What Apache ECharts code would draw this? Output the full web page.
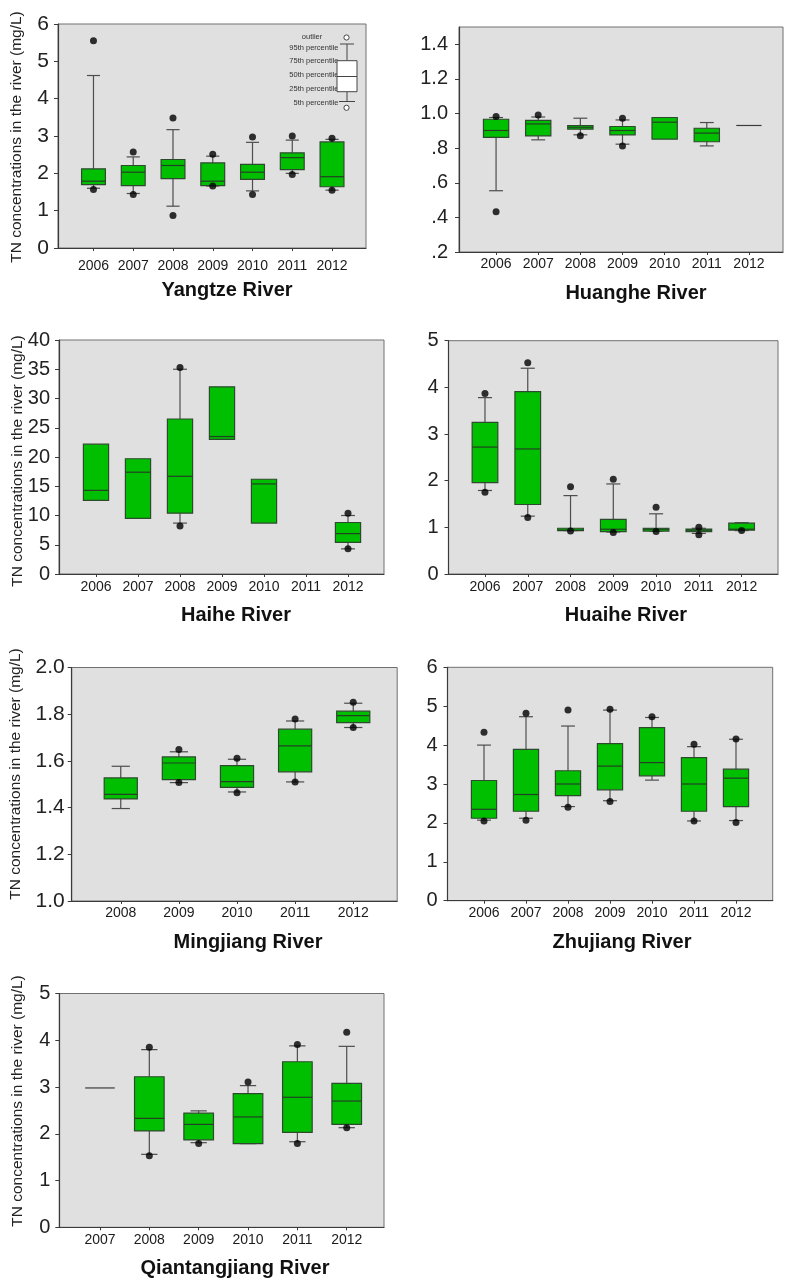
<!DOCTYPE html>
<html><head><meta charset="utf-8">
<script src="https://cdn.jsdelivr.net/npm/echarts@6/dist/echarts.min.js"></script>
<style>html,body{margin:0;padding:0;background:#fff}#c{width:787px;height:1281px}</style>
</head><body><div id="c"></div>
<script>
// ---------------- DATA ----------------
// Yangtze River
const yangtzeYears = ['2006','2007','2008','2009','2010','2011','2012'];
const yangtzeP5   = [1.60, 1.46, 1.12, 1.66, 1.53, 2.00, 1.55];
const yangtzeQ1   = [1.70, 1.67, 1.86, 1.67, 1.84, 2.10, 1.64];
const yangtzeMed  = [1.79, 2.03, 2.21, 1.79, 2.03, 2.42, 1.91];
const yangtzeQ3   = [2.12, 2.21, 2.37, 2.28, 2.24, 2.55, 2.84];
const yangtzeP95  = [4.62, 2.44, 3.17, 2.46, 2.83, 2.89, 2.91];
const yangtzeOutHigh = [5.55, 2.57, 3.48, 2.51, 2.97, 3.00, 2.94];
const yangtzeOutLow  = [1.57, 1.43, 0.87, 1.66, 1.43, 1.97, 1.55];
const yangtzeTicks = [0, 1, 2, 3, 4, 5, 6];
const yangtzeTickLabels = ['0','1','2','3','4','5','6'];

// Huanghe River
const huangheYears = ['2006','2007','2008','2009','2010','2011','2012'];
const huangheP5   = [0.554, 0.848, 0.877, 0.823, null, 0.813, null];
const huangheQ1   = [0.862, 0.871, 0.910, 0.877, 0.852, 0.837, 0.931];
const huangheMed  = [0.902, 0.940, 0.921, 0.902, 0.950, 0.887, 0.931];
const huangheQ3   = [0.967, 0.960, 0.931, 0.925, 0.977, 0.915, 0.931];
const huangheP95  = [0.977, 0.980, 0.973, 0.963, null, 0.948, null];
const huangheOutHigh = [0.983, 0.992, null, 0.973, null, null, null];
const huangheOutLow  = [0.433, null, 0.871, 0.813, null, null, null];
const huangheTicks = [0.2, 0.4, 0.6, 0.8, 1.0, 1.2, 1.4];
const huangheTickLabels = ['.2','.4','.6','.8','1.0','1.2','1.4'];

// Haihe River
const haiheYears = ['2006','2007','2008','2009','2010','2011','2012'];
const haiheP5   = [null, null, 8.7, null, null, null, 4.3];
const haiheQ1   = [12.6, 9.5, 10.4, 23.0, 8.7, null, 5.4];
const haiheMed  = [14.3, 17.4, 16.7, 23.5, 15.4, null, 6.9];
const haiheQ3   = [22.2, 19.7, 26.5, 32.0, 16.2, null, 8.8];
const haiheP95  = [null, null, 35.0, null, null, null, 10.0];
const haiheOutHigh = [null, null, 35.3, null, null, null, 10.4];
const haiheOutLow  = [null, null, 8.2, null, null, null, 4.3];
const haiheTicks = [0, 5, 10, 15, 20, 25, 30, 35, 40];
const haiheTickLabels = ['0','5','10','15','20','25','30','35','40'];

// Huaihe River
const huaiheYears = ['2006','2007','2008','2009','2010','2011','2012'];
const huaiheP5   = [1.79, 1.24, 0.93, 0.90, 0.92, 0.87, 0.93];
const huaiheQ1   = [1.96, 1.49, 0.93, 0.91, 0.92, 0.91, 0.94];
const huaiheMed  = [2.72, 2.68, 0.94, 0.96, 0.96, 0.94, 0.96];
const huaiheQ3   = [3.25, 3.91, 0.98, 1.17, 0.98, 0.96, 1.09];
const huaiheP95  = [3.78, 4.41, 1.68, 1.93, 1.29, 0.98, 1.10];
const huaiheOutHigh = [3.87, 4.53, 1.87, 2.03, 1.43, 1.00, null];
const huaiheOutLow  = [1.75, 1.21, 0.92, 0.89, 0.91, 0.84, 0.93];
const huaiheTicks = [0, 1, 2, 3, 4, 5];
const huaiheTickLabels = ['0','1','2','3','4','5'];

// Mingjiang River
const mingjiangYears = ['2008','2009','2010','2011','2012'];
const mingjiangP5   = [1.396, 1.507, 1.467, 1.510, 1.743];
const mingjiangQ1   = [1.437, 1.520, 1.487, 1.553, 1.764];
const mingjiangMed  = [1.457, 1.591, 1.511, 1.664, 1.794];
const mingjiangQ3   = [1.527, 1.617, 1.580, 1.736, 1.813];
const mingjiangP95  = [1.577, 1.639, 1.607, 1.771, 1.847];
const mingjiangOutHigh = [null, 1.649, 1.611, 1.779, 1.851];
const mingjiangOutLow  = [null, 1.507, 1.464, 1.510, 1.743];
const mingjiangTicks = [1.0, 1.2, 1.4, 1.6, 1.8, 2.0];
const mingjiangTickLabels = ['1.0','1.2','1.4','1.6','1.8','2.0'];

// Zhujiang River
const zhujiangYears = ['2006','2007','2008','2009','2010','2011','2012'];
const zhujiangP5   = [2.07, 2.12, 2.42, 2.57, 3.10, 2.05, 2.06];
const zhujiangQ1   = [2.12, 2.30, 2.70, 2.85, 3.21, 2.30, 2.42];
const zhujiangMed  = [2.35, 2.73, 3.00, 3.46, 3.55, 3.00, 3.15];
const zhujiangQ3   = [3.09, 3.89, 3.34, 4.04, 4.45, 3.68, 3.38];
const zhujiangP95  = [4.00, 4.73, 4.49, 4.90, 4.71, 3.96, 4.15];
const zhujiangOutHigh = [4.33, 4.82, 4.90, 4.92, 4.73, 4.02, 4.16];
const zhujiangOutLow  = [2.05, 2.07, 2.40, 2.55, null, 2.05, 2.01];
const zhujiangTicks = [0, 1, 2, 3, 4, 5, 6];
const zhujiangTickLabels = ['0','1','2','3','4','5','6'];

// Qiantangjiang River
const qiantangYears = ['2007','2008','2009','2010','2011','2012'];
const qiantangP5   = [null, 1.56, 1.81, 1.79, 1.83, 2.13];
const qiantangQ1   = [2.98, 2.06, 1.87, 1.79, 2.03, 2.20];
const qiantangMed  = [2.98, 2.33, 2.20, 2.36, 2.78, 2.70];
const qiantangQ3   = [2.98, 3.22, 2.44, 2.86, 3.54, 3.08];
const qiantangP95  = [null, 3.80, 2.49, 3.03, 3.88, 3.87];
const qiantangOutHigh = [null, 3.85, null, 3.11, 3.91, 4.17];
const qiantangOutLow  = [null, 1.53, 1.79, null, 1.79, 2.13];
const qiantangTicks = [0, 1, 2, 3, 4, 5];
const qiantangTickLabels = ['0','1','2','3','4','5'];

const yName = 'TN concentrations in the river (mg/L)';
const legendLabels = ['outlier','95th percentile','75th percentile','50th percentile','25th percentile','5th percentile'];

// ---------------- LAYOUT / STYLE ----------------
const FONT = '"Liberation Sans", Arial, Helvetica, sans-serif';
const GREEN = '#00bf00';
const panels = [
  {title:'Yangtze River', years:yangtzeYears, p5:yangtzeP5, q1:yangtzeQ1, med:yangtzeMed, q3:yangtzeQ3, p95:yangtzeP95, hi:yangtzeOutHigh, lo:yangtzeOutLow,
   ticks:yangtzeTicks, labels:yangtzeTickLabels, min:0, max:6, interval:1,
   frame:[58,24,308,224], inner:[73.6,278.3], frac:0.6, yFont:21, yMargin:9, xMargin:11, titlePos:[227,290], namePos:[17,137]},
  {title:'Huanghe River', years:huangheYears, p5:huangheP5, q1:huangheQ1, med:huangheMed, q3:huangheQ3, p95:huangheP95, hi:huangheOutHigh, lo:huangheOutLow,
   ticks:huangheTicks, labels:huangheTickLabels, min:0.2, max:1.5, interval:0.2,
   frame:[459,27,324,225], inner:[475,295], frac:0.6, yFont:20, yMargin:11, xMargin:5, titlePos:[636,293], namePos:null},
  {title:'Haihe River', years:haiheYears, p5:haiheP5, q1:haiheQ1, med:haiheMed, q3:haiheQ3, p95:haiheP95, hi:haiheOutHigh, lo:haiheOutLow,
   ticks:haiheTicks, labels:haiheTickLabels, min:0, max:40, interval:5,
   frame:[59,340,325,234], inner:[75,294], frac:0.6, yFont:20, yMargin:9, xMargin:6, titlePos:[236,615], namePos:[18,461]},
  {title:'Huaihe River', years:huaiheYears, p5:huaiheP5, q1:huaiheQ1, med:huaiheMed, q3:huaiheQ3, p95:huaiheP95, hi:huaiheOutHigh, lo:huaiheOutLow,
   ticks:huaiheTicks, labels:huaiheTickLabels, min:0, max:5, interval:1,
   frame:[448.5,340.7,329.5,233.3], inner:[463.6,299.4], frac:0.6, yFont:20, yMargin:10, xMargin:6, titlePos:[626,615], namePos:null},
  {title:'Mingjiang River', years:mingjiangYears, p5:mingjiangP5, q1:mingjiangQ1, med:mingjiangMed, q3:mingjiangQ3, p95:mingjiangP95, hi:mingjiangOutHigh, lo:mingjiangOutLow,
   ticks:mingjiangTicks, labels:mingjiangTickLabels, min:1.0, max:2.0, interval:0.2,
   frame:[71.7,667.5,325.5,233.5], inner:[91.7,290.6], frac:0.57, yFont:21, yMargin:7, xMargin:5, titlePos:[248,942], namePos:[16,774]},
  {title:'Zhujiang River', years:zhujiangYears, p5:zhujiangP5, q1:zhujiangQ1, med:zhujiangMed, q3:zhujiangQ3, p95:zhujiangP95, hi:zhujiangOutHigh, lo:zhujiangOutLow,
   ticks:zhujiangTicks, labels:zhujiangTickLabels, min:0, max:6, interval:1,
   frame:[447.5,667.3,325.2,233.4], inner:[463,294], frac:0.6, yFont:20, yMargin:10, xMargin:5, titlePos:[622,942], namePos:null},
  {title:'Qiantangjiang River', years:qiantangYears, p5:qiantangP5, q1:qiantangQ1, med:qiantangMed, q3:qiantangQ3, p95:qiantangP95, hi:qiantangOutHigh, lo:qiantangOutLow,
   ticks:qiantangTicks, labels:qiantangTickLabels, min:0, max:5, interval:1,
   frame:[59.3,993.5,324.7,233.8], inner:[75.3,296.1], frac:0.6, yFont:20, yMargin:9, xMargin:6, titlePos:[235,1268], namePos:[18,1101]}
];

function isNum(v){ return v !== null && v !== undefined && !isNaN(v); }

function makeRender(frac){
  return function(params, api){
    const x = api.value(0);
    const p5 = api.value(1), q1 = api.value(2), med = api.value(3), q3 = api.value(4), p95 = api.value(5);
    const bw = api.size([1,0])[0] * frac;
    const cap = bw * 0.55;
    const cx = api.coord([x, q1])[0];
    const yq1 = api.coord([x, q1])[1];
    const yq3 = api.coord([x, q3])[1];
    const ym = api.coord([x, med])[1];
    const ch = [];
    const wStyle = {stroke:'#4d4d4d', lineWidth:1.2};
    if (isNum(p95)) {
      const y = api.coord([x, p95])[1];
      ch.push({type:'line', shape:{x1:cx,y1:yq3,x2:cx,y2:y}, style:wStyle});
      ch.push({type:'line', shape:{x1:cx-cap/2,y1:y,x2:cx+cap/2,y2:y}, style:wStyle});
    }
    if (isNum(p5)) {
      const y = api.coord([x, p5])[1];
      ch.push({type:'line', shape:{x1:cx,y1:yq1,x2:cx,y2:y}, style:wStyle});
      ch.push({type:'line', shape:{x1:cx-cap/2,y1:y,x2:cx+cap/2,y2:y}, style:wStyle});
    }
    const flat = Math.abs(yq1 - yq3) < 0.5;
    if (flat) {
      ch.push({type:'line', shape:{x1:cx-bw/2,y1:ym,x2:cx+bw/2,y2:ym}, style:{stroke:'#3a3a3a', lineWidth:1.2}});
    } else {
      ch.push({type:'rect', shape:{x:cx-bw/2, y:yq3, width:bw, height:yq1-yq3}, style:{fill:GREEN, stroke:'#2e4a2e', lineWidth:1.2}});
      ch.push({type:'line', shape:{x1:cx-bw/2,y1:ym,x2:cx+bw/2,y2:ym}, style:{stroke:'#244024', lineWidth:1.2}});
    }
    return {type:'group', children:ch};
  };
}

const grid = [], xAxis = [], yAxis = [], series = [], graphic = [];
panels.forEach((p, i) => {
  const go = 2*i, gi = 2*i+1;
  const [fl, ft, fw, fh] = p.frame;
  grid.push({left:fl, top:ft, width:fw, height:fh, show:true, backgroundColor:'#e0e0e0', borderColor:'#707070', borderWidth:1, containLabel:false, outerBoundsMode:'none'});
  grid.push({left:p.inner[0], top:ft, width:p.inner[1], height:fh, show:false, containLabel:false, outerBoundsMode:'none'});
  xAxis.push({gridIndex:go, type:'value', min:0, max:1, axisLine:{show:true, onZero:false, lineStyle:{color:'#3a3a3a', width:1.2}}, axisTick:{show:false}, axisLabel:{show:false}, splitLine:{show:false}});
  xAxis.push({gridIndex:gi, type:'category', data:p.years, boundaryGap:true, axisLine:{show:false},
    axisTick:{show:true, alignWithLabel:true, length:3, lineStyle:{color:'#3a3a3a'}},
    axisLabel:{fontFamily:FONT, fontSize:14, color:'#1a1a1a', margin:p.xMargin, interval:0}, splitLine:{show:false}});
  const labels = p.labels, ticks = p.ticks;
  yAxis.push({gridIndex:go, type:'value', min:p.min, max:p.max, interval:p.interval,
    axisLine:{show:true, onZero:false, lineStyle:{color:'#3a3a3a', width:1.2}},
    axisTick:{show:true, inside:false, length:4, customValues:ticks, lineStyle:{color:'#3a3a3a'}},
    axisLabel:{customValues:ticks, fontFamily:FONT, fontSize:p.yFont, color:'#222', margin:p.yMargin,
      formatter:(v)=>{ const k = ticks.findIndex(t=>Math.abs(t-v)<1e-6); return k>=0 ? labels[k] : ''; }},
    splitLine:{show:false}});
  yAxis.push({gridIndex:gi, type:'value', min:p.min, max:p.max, show:false, splitLine:{show:false}});
  const boxData = [];
  p.years.forEach((y, k) => {
    if (!isNum(p.q1[k])) return;
    boxData.push([k, p.p5[k], p.q1[k], p.med[k], p.q3[k], p.p95[k]]);
  });
  series.push({type:'custom', name:p.title, xAxisIndex:gi, yAxisIndex:gi, renderItem:makeRender(p.frac),
    encode:{x:0, y:[2,3,4]}, data:boxData, z:2, silent:true, clip:false});
  const dots = [];
  p.years.forEach((y, k) => {
    if (isNum(p.hi[k])) dots.push([k, p.hi[k]]);
    if (isNum(p.lo[k])) dots.push([k, p.lo[k]]);
  });
  series.push({type:'scatter', xAxisIndex:gi, yAxisIndex:gi, data:dots, symbol:'circle', symbolSize:7,
    itemStyle:{color:'#000'}, z:4, silent:true});
  graphic.push({type:'text', x:p.titlePos[0], y:p.titlePos[1], z:10,
    style:{text:p.title, font:'bold 20px ' + FONT, fill:'#111', align:'center', verticalAlign:'middle'}});
  if (p.namePos) {
    graphic.push({type:'text', x:p.namePos[0], y:p.namePos[1], rotation:Math.PI/2, z:10,
      style:{text:yName, font:'15.5px ' + FONT, fill:'#222', align:'center', verticalAlign:'middle'}});
  }
});

// legend key inside Yangtze panel
const legY = [37, 47.5, 61, 75, 89, 102.5];
legendLabels.forEach((t, k) => {
  graphic.push({type:'text', x: k===0 ? 312 : 338.5, y:legY[k], z:20,
    style:{text:t, font:'7.5px ' + FONT, fill:'#333', align: k===0 ? 'center' : 'right', verticalAlign:'middle'}});
});
const lk = {stroke:'#444', lineWidth:1};
graphic.push({type:'line', z:21, shape:{x1:347,y1:44,x2:347,y2:60.7}, style:lk});
graphic.push({type:'line', z:21, shape:{x1:340,y1:44,x2:354,y2:44}, style:lk});
graphic.push({type:'line', z:21, shape:{x1:347,y1:91.7,x2:347,y2:101.5}, style:lk});
graphic.push({type:'line', z:21, shape:{x1:339,y1:101.5,x2:355,y2:101.5}, style:lk});
graphic.push({type:'rect', z:22, shape:{x:337,y:60.7,width:20,height:31}, style:{fill:'#fff', stroke:'#444', lineWidth:1}});
graphic.push({type:'line', z:23, shape:{x1:337,y1:76.5,x2:357,y2:76.5}, style:lk});
graphic.push({type:'circle', z:21, shape:{cx:346.5,cy:37.5,r:2.6}, style:{fill:'#fff', stroke:'#444', lineWidth:1}});
graphic.push({type:'circle', z:21, shape:{cx:346.5,cy:107.8,r:2.6}, style:{fill:'#fff', stroke:'#444', lineWidth:1}});

const chart = echarts.init(document.getElementById('c'), null, {renderer:'canvas'});
chart.setOption({animation:false, backgroundColor:'#fff', grid, xAxis, yAxis, series, graphic});
</script></body></html>
